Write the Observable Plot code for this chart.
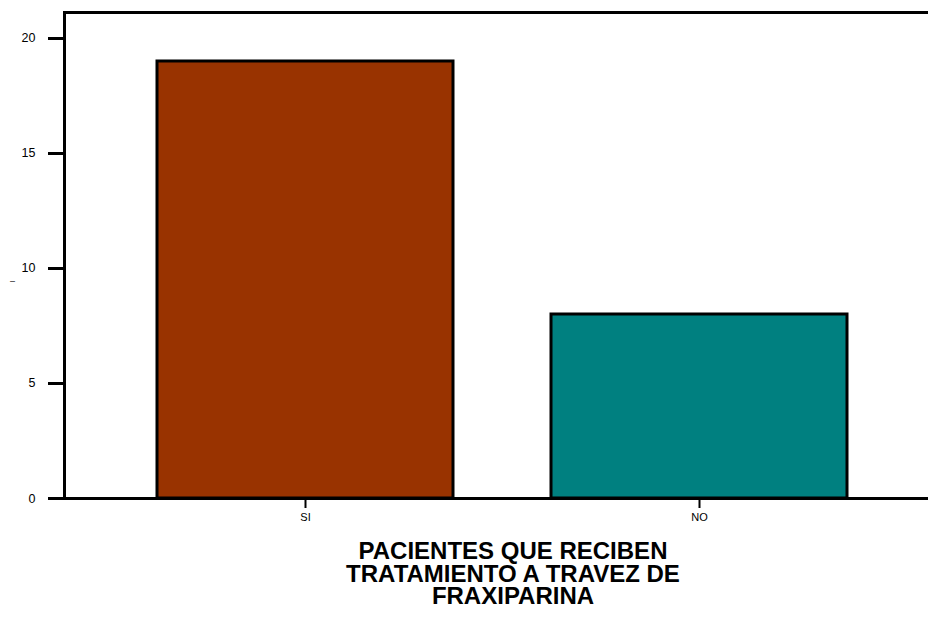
<!DOCTYPE html>
<html><head><meta charset="utf-8">
<script src="https://cdn.jsdelivr.net/npm/d3@7"></script>
<script src="https://cdn.jsdelivr.net/npm/@observablehq/plot@0.6"></script>
<style>
html,body{margin:0;padding:0;background:#fff;overflow:hidden;width:928px;height:632px;}
#wrap{position:relative;width:928px;height:632px;overflow:hidden;}
#chart svg{max-width:none !important;display:block;}
#cap{position:absolute;left:333px;width:360px;top:540px;text-align:center;font-family:"Liberation Sans",Arial,sans-serif;font-weight:bold;font-size:24px;line-height:22.5px;color:#000;}
</style></head>
<body><div id="wrap"><div id="chart"></div><div id="cap"></div></div>
<script>
const categories = ["SI", "NO"];
const counts = [19, 8];
const colors = ["#993300", "#008080"];
const yTicks = [0, 5, 10, 15, 20];
const yLabel = "l";
const caption = "PACIENTES QUE RECIBEN TRATAMIENTO A TRAVEZ DE FRAXIPARINA";

const data = categories.map((c, i) => ({cat: c, n: counts[i], col: colors[i]}));

const chart = Plot.plot({
  width: 940,
  height: 530,
  marginLeft: 64,
  marginRight: 0,
  marginTop: 12,
  marginBottom: 32,
  style: {fontFamily: "'Liberation Sans', Arial, sans-serif", fontSize: "11px", color: "#000", background: "#fff", maxWidth: "none"},
  x: {domain: categories, paddingInner: 0.2487, paddingOuter: 0.236, label: null},
  y: {domain: [0, 21.13], label: null},
  marks: [
    Plot.barY(data, {x: "cat", y: "n", fill: "col", stroke: "#000", strokeWidth: 3}),
    Plot.frame({stroke: "#000", strokeWidth: 3}),
    Plot.axisY({ticks: yTicks, tickSize: 16, tickPadding: 13, strokeWidth: 3, fontSize: 12.5, label: null}),
    Plot.axisX({tickSize: 10, tickPadding: 5, strokeWidth: 2, fontSize: 11, label: null}),
    Plot.text([yLabel], {frameAnchor: "left", dx: -52, dy: 27, rotate: -90, fontSize: 7, text: d => d})
  ]
});
document.getElementById("chart").appendChild(chart);
document.getElementById("cap").textContent = caption;
</script></body></html>
